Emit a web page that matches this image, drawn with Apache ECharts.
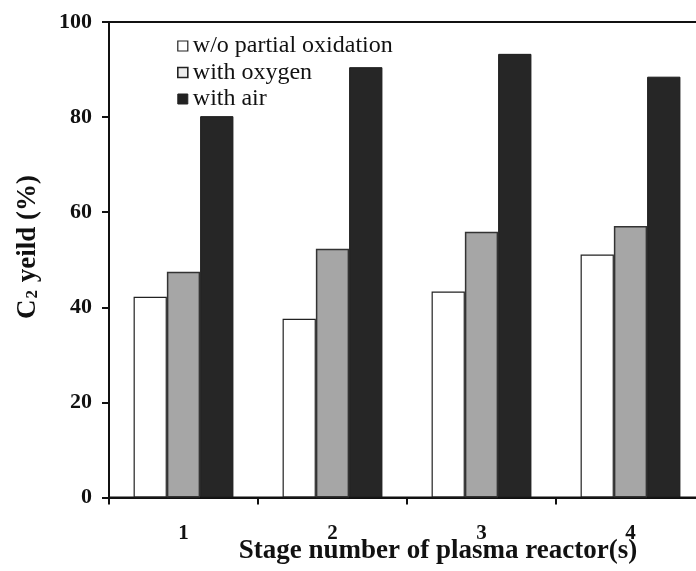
<!DOCTYPE html>
<html>
<head>
<meta charset="utf-8">
<script src="https://cdn.jsdelivr.net/npm/echarts@6/dist/echarts.min.js"></script>
<style>
  html, body { margin: 0; padding: 0; background: #fff; }
  #chart { width: 696px; height: 571px; }
</style>
</head>
<body>
<div id="chart"></div>
<script>
// Stage number of plasma reactors
const stages = ['1', '2', '3', '4'];
// C2 yield (%) for each feed condition
const withoutOxidation = [42.2, 37.6, 43.3, 51.1];
const withOxygen = [47.5, 52.3, 55.9, 57.1];
const withAir = [80.2, 90.5, 93.3, 88.5];
const yTicks = [0, 20, 40, 60, 80, 100];

const serif = '"Liberation Serif", "DejaVu Serif", serif';

const chart = echarts.init(document.getElementById('chart'), null, { renderer: 'canvas' });

const barBase = { type: 'bar', barGap: '0%', barCategoryGap: '33%', animation: false };
const legendText = { fontFamily: serif, fontSize: 24, color: '#111' };

chart.setOption({
  backgroundColor: '#ffffff',
  textStyle: { fontFamily: serif },
  grid: {
    left: 109, top: 22, width: 596, height: 475.5,
    outerBoundsMode: 'none', containLabel: false,
    show: true, borderColor: '#111', borderWidth: 2, backgroundColor: 'transparent'
  },
  legend: {
    left: 172, top: 29, orient: 'vertical', itemGap: 2.5,
    itemWidth: 10, itemHeight: 10,
    textStyle: legendText,
    data: [
      { name: 'w/o partial oxidation', icon: 'rect', textStyle: legendText, itemStyle: { color: '#fff', borderColor: '#222', borderWidth: 1.2 } },
      { name: 'with oxygen', icon: 'rect', textStyle: legendText, itemStyle: { color: '#ececec', borderColor: '#222', borderWidth: 1.6 } },
      { name: 'with air', icon: 'rect', textStyle: legendText, itemStyle: { color: '#222', borderColor: '#222', borderWidth: 1 } }
    ]
  },
  xAxis: {
    type: 'category', data: stages,
    axisLine: { show: true, lineStyle: { color: '#111', width: 2 } },
    axisTick: { show: true, inside: false, length: 7, alignWithLabel: false, lineStyle: { color: '#111', width: 2 } },
    axisLabel: { margin: 26, fontFamily: serif, fontSize: 21, fontWeight: 'bold', color: '#111' },
    splitLine: { show: false }
  },
  yAxis: {
    type: 'value', min: yTicks[0], max: yTicks[yTicks.length - 1], interval: 20,
    axisLine: { show: true, lineStyle: { color: '#111', width: 2 } },
    axisTick: { show: true, inside: false, length: 7, lineStyle: { color: '#111', width: 2 } },
    axisLabel: { margin: 17, fontFamily: serif, fontSize: 22, fontWeight: 'bold', color: '#111' },
    splitLine: { show: false }
  },
  graphic: [
    {
      type: 'text', x: 438, y: 551,
      style: {
        text: 'Stage number of plasma reactor(s)',
        font: 'bold 27px ' + serif, fill: '#111',
        align: 'center', verticalAlign: 'middle'
      }
    },
    {
      type: 'text', x: 28, y: 247, rotation: Math.PI / 2,
      style: {
        text: '{n|C}{s|2}{n| yeild (%)}',
        align: 'center', verticalAlign: 'middle',
        rich: {
          n: { font: 'bold 27px ' + serif, fill: '#111' },
          s: { font: 'bold 17px ' + serif, fill: '#111', padding: [10, 1, 0, 1] }
        },
        fill: '#111'
      }
    }
  ],
  series: [
    Object.assign({}, barBase, {
      name: 'w/o partial oxidation', data: withoutOxidation,
      itemStyle: { color: '#ffffff', borderColor: '#222', borderWidth: 1.2 }
    }),
    Object.assign({}, barBase, {
      name: 'with oxygen', data: withOxygen,
      itemStyle: { color: '#a6a6a6', borderColor: '#333', borderWidth: 1.5 }
    }),
    Object.assign({}, barBase, {
      name: 'with air', data: withAir,
      itemStyle: { color: '#262626', borderColor: '#1a1a1a', borderWidth: 1 }
    })
  ]
});
</script>
</body>
</html>
